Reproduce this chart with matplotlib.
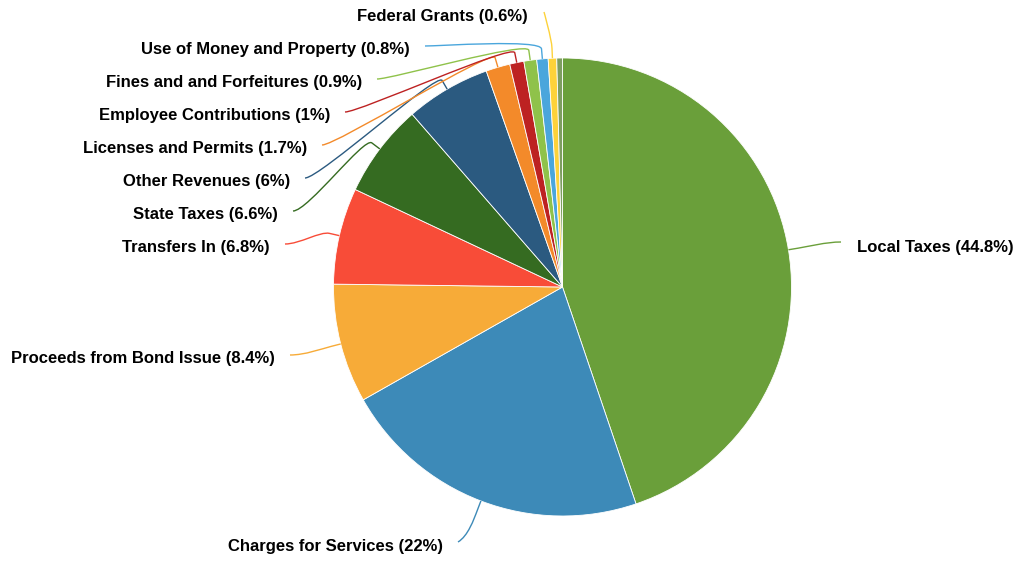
import numpy as np
import matplotlib
matplotlib.use("Agg")
from matplotlib import pyplot as plt
from matplotlib.path import Path
from matplotlib.patches import PathPatch

plt.rcParams["font.family"] = ["Liberation Sans", "DejaVu Sans"]

categories = ["Local Taxes", "Charges for Services", "Proceeds from Bond Issue",
              "Transfers In", "State Taxes", "Other Revenues", "Licenses and Permits",
              "Employee Contributions", "Fines and and Forfeitures",
              "Use of Money and Property", "Federal Grants", ""]
shares = [44.8, 22, 8.4, 6.8, 6.6, 6, 1.7, 1, 0.9, 0.8, 0.6, 0.4]
pct_labels = ["44.8%", "22%", "8.4%", "6.8%", "6.6%", "6%", "1.7%", "1%",
              "0.9%", "0.8%", "0.6%", ""]
colors = ["#6a9f3a", "#3d8ab8", "#f7ab38", "#f84c38", "#356b21", "#2b5a80",
          "#f38a2a", "#bd2222", "#8fc24a", "#4aa6dc", "#fdd23a", "#7d9d5f"]

# layout (pixel coords from the top-left): end point of each leader line, text side
W, H = 1018, 561
cx, cy, rad = 562.5, 287, 229
line_ends = [(841, 242), (458, 542), (290, 355), (285, 244), (293, 211),
             (305, 178), (322, 145), (345, 112), (377, 79), (425, 46),
             (544, 12), None]
sides = ["right", "bottom", "left", "left", "left", "left", "left", "left",
         "left", "left", "top", None]
fs = 12

fig = plt.figure(figsize=(W / 100, H / 100), dpi=100)
ax = fig.add_axes([0, 0, 1, 1])

wedges, _ = ax.pie(shares, colors=colors, startangle=90, counterclock=False,
                   center=(cx, H - cy), radius=rad, frame=True,
                   wedgeprops=dict(edgecolor="white", linewidth=0.6))
ax.set_xlim(0, W)
ax.set_ylim(0, H)
ax.set_aspect("equal")
ax.axis("off")

for w, name, pct, end, side, col in zip(wedges, categories, pct_labels,
                                        line_ends, sides, colors):
    if end is None:
        continue
    ang = np.deg2rad((w.theta1 + w.theta2) / 2)
    u = np.array([np.cos(ang), np.sin(ang)])
    c = np.array([cx, H - cy])
    p0 = c + u * rad
    p1 = c + u * (rad + 10)
    c1 = c + u * (rad + 20)
    p3 = np.array([end[0], H - end[1]])
    if side == "left":
        c2 = p3 + np.array([15, 0])
    elif side == "right":
        c2 = p3 - np.array([15, 0])
    elif side == "top":
        c2 = p3
    else:
        c2 = p3 + np.array([10, 6])
    path = Path([p0, p1, c1, c2, p3],
                [Path.MOVETO, Path.LINETO, Path.CURVE4, Path.CURVE4, Path.CURVE4])
    ax.add_patch(PathPatch(path, facecolor="none", edgecolor=col, lw=1.0))

    txt = f"{name} ({pct})"
    if side == "left":
        ax.text(p3[0] - 15, p3[1] - 3, txt, ha="right", va="center",
                fontsize=fs, fontweight="bold")
    elif side == "right":
        ax.text(p3[0] + 16, p3[1] - 5, txt, ha="left", va="center",
                fontsize=fs, fontweight="bold")
    elif side == "top":
        ax.text(p3[0] - 16, p3[1] - 4, txt, ha="right", va="center",
                fontsize=fs, fontweight="bold")
    else:
        ax.text(p3[0] - 15, p3[1] - 4, txt, ha="right", va="center",
                fontsize=fs, fontweight="bold")

fig.savefig("out.png", dpi=100, facecolor="white")
